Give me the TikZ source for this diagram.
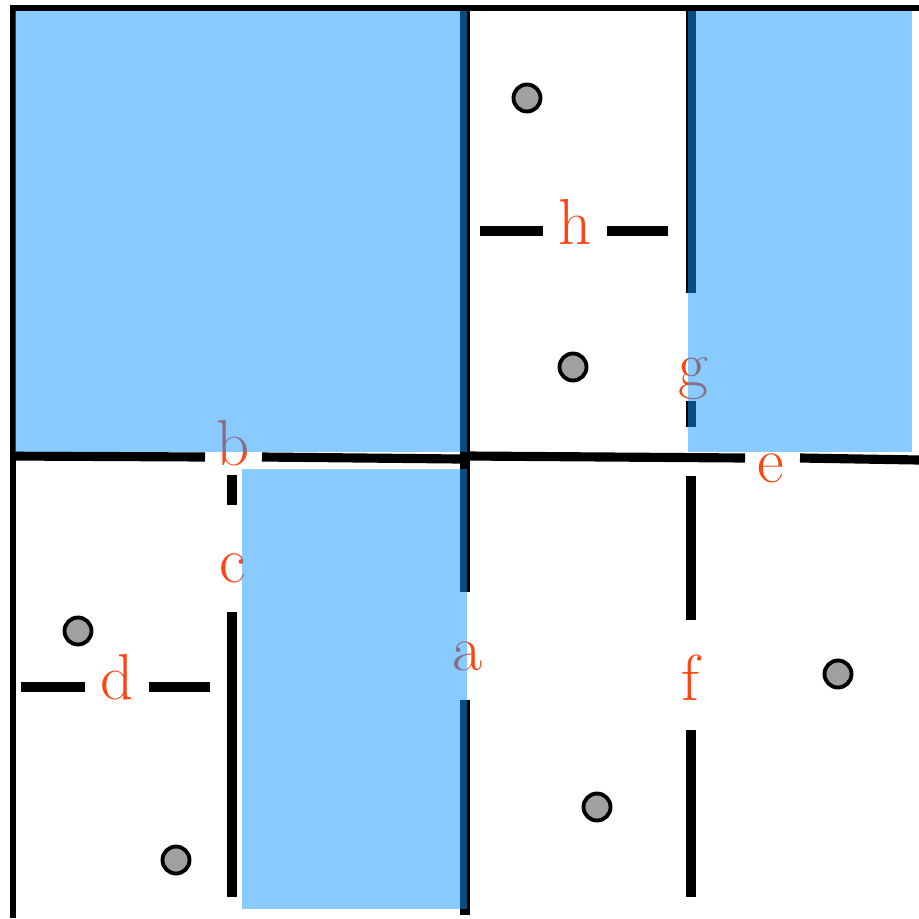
\documentclass[tikz,border=0pt]{standalone}
\usetikzlibrary{positioning}
\definecolor{roomblue}{RGB}{20,152,254}
\definecolor{doorred}{RGB}{255,68,17}
\definecolor{dotgray}{RGB}{160,160,160}
\tikzset{
  wall/.style={line width=2.6pt},
  border/.style={line width=1.5pt},
  room/.style={fill=roomblue, fill opacity=0.5},
  door/.style={text=doorred, font=\fontsize{18.5}{22}\selectfont, inner sep=0pt, anchor=base},
  dot/.style={circle, draw, line width=1.1pt, fill=dotgray, minimum size=0.27cm, inner sep=0pt}
}
\begin{document}
\begin{tikzpicture}[x=0.01cm,y=-0.01cm]
\useasboundingbox (0,0) rectangle (919,918);
% outer walls
\draw[border] (10,8) -- (919,8);
\draw[border] (13,6) -- (13,918);
% walls
\draw[wall] (12,456) -- (205,457);
\draw[wall] (262,457) -- (460,459);
\draw[wall] (468,456) -- (745,458);
\draw[wall] (800,458) -- (919,460);
\draw[wall] (465,10) -- (465,592);
\draw[wall] (465,700) -- (465,915);
\draw[wall] (691,10) -- (691,293);
\draw[wall] (691,401) -- (691,427);
\draw[wall] (691,476) -- (691,620);
\draw[wall] (691,730) -- (691,897);
\draw[wall] (232,475) -- (232,505);
\draw[wall] (232,612) -- (232,897);
\draw[wall] (21,687) -- (85,687);
\draw[wall] (149,687) -- (210,687);
\draw[wall] (480,231) -- (543,231);
\draw[wall] (607,231) -- (668,231);
% doors
\node[door] (a) at (467,670) {a};
\node[door] (b) at (233,465) {b};
\node[door] (c) at (233,582) {c};
\node[door] (d) at (117,699) {d};
\node[door] (e) at (771,482) {e};
\node[door] (f) at (690,700) {f};
\node[door] (g) at (693,386) {g};
\node[door] (h) at (575,244) {h};
% people
\node[dot] (p1) at (527,98) {};
\node[dot] (p2) at (573,367) {};
\node[dot] (p3) at (78,631) {};
\node[dot] (p4) at (176,860) {};
\node[dot] (p5) at (597,807) {};
\node[dot] (p6) at (838,674) {};
% rooms
\fill[room] (15,11) rectangle (467,452);
\fill[room] (688,11) rectangle (912,452);
\fill[room] (242,469) rectangle (467,909);
\end{tikzpicture}
\end{document}
